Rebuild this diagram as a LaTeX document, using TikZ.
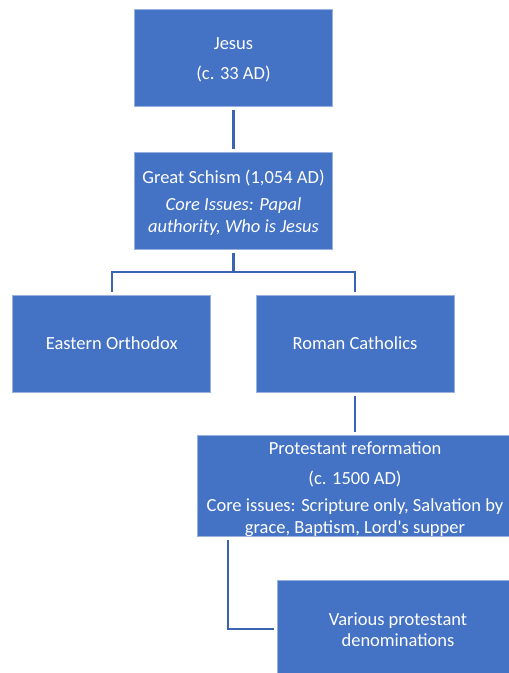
\documentclass[tikz,border=0pt]{standalone}
\usepackage{fontspec}
\setmainfont{Carlito}[Ligatures=TeXOff]
\definecolor{boxblue}{HTML}{4472C4}
\definecolor{linkblue}{HTML}{3A64B0}
\begin{document}
\begin{tikzpicture}[x=1pt,y=-1pt,
  box/.style={rectangle, fill=boxblue, draw=boxblue!55!white, line width=0.5pt,
    text=white, align=center, inner sep=0pt,
    font=\fontsize{18.5pt}{21.5pt}\selectfont},
  link/.style={draw=linkblue, line width=2.2pt}]
\useasboundingbox (0,0) rectangle (509,673);
\node[box, minimum width=198pt, minimum height=97pt] (jesus) at (233.5,58) {\rule{0pt}{16pt}Jesus\\[8.5pt](c. 33 AD)};
\node[box, minimum width=198pt, minimum height=97pt] (schism) at (233.5,200.5) {\rule{0pt}{18pt}Great Schism (1,054 AD)\\[5.5pt]\textit{Core Issues: Papal}\\\textit{authority, Who is Jesus}};
\node[box, minimum width=198pt, minimum height=97pt] (eastern) at (111.7,343.5) {Eastern Orthodox};
\node[box, minimum width=198pt, minimum height=97pt] (roman) at (355,343.5) {Roman Catholics};
\node[box, minimum width=316pt, minimum height=98pt] (prot) at (355,486) {\rule{0pt}{19.5pt}Protestant reformation\\[8.5pt](c. 1500 AD)\\[5.5pt]Core issues: Scripture only, Salvation by\\grace, Baptism, Lord's supper};
\node[box, minimum width=242pt, minimum height=98pt] (various) at (398,629) {\rule{0pt}{14.5pt}Various protestant\\denominations};
\draw[link, shorten <=3pt, shorten >=3pt] (jesus) -- (schism);
\draw[link, shorten <=4pt] (schism.south) -- ++(0,23) coordinate (split);
\draw[link, shorten >=3pt] (split) -| (eastern.north);
\draw[link, shorten >=3pt] (split) -| (roman.north);
\draw[link, shorten <=4pt, shorten >=3pt] (roman) -- (prot);
\draw[link, shorten <=3pt, shorten >=3pt] ([xshift=31pt]prot.south west) |- (various.west);
\end{tikzpicture}
\end{document}
